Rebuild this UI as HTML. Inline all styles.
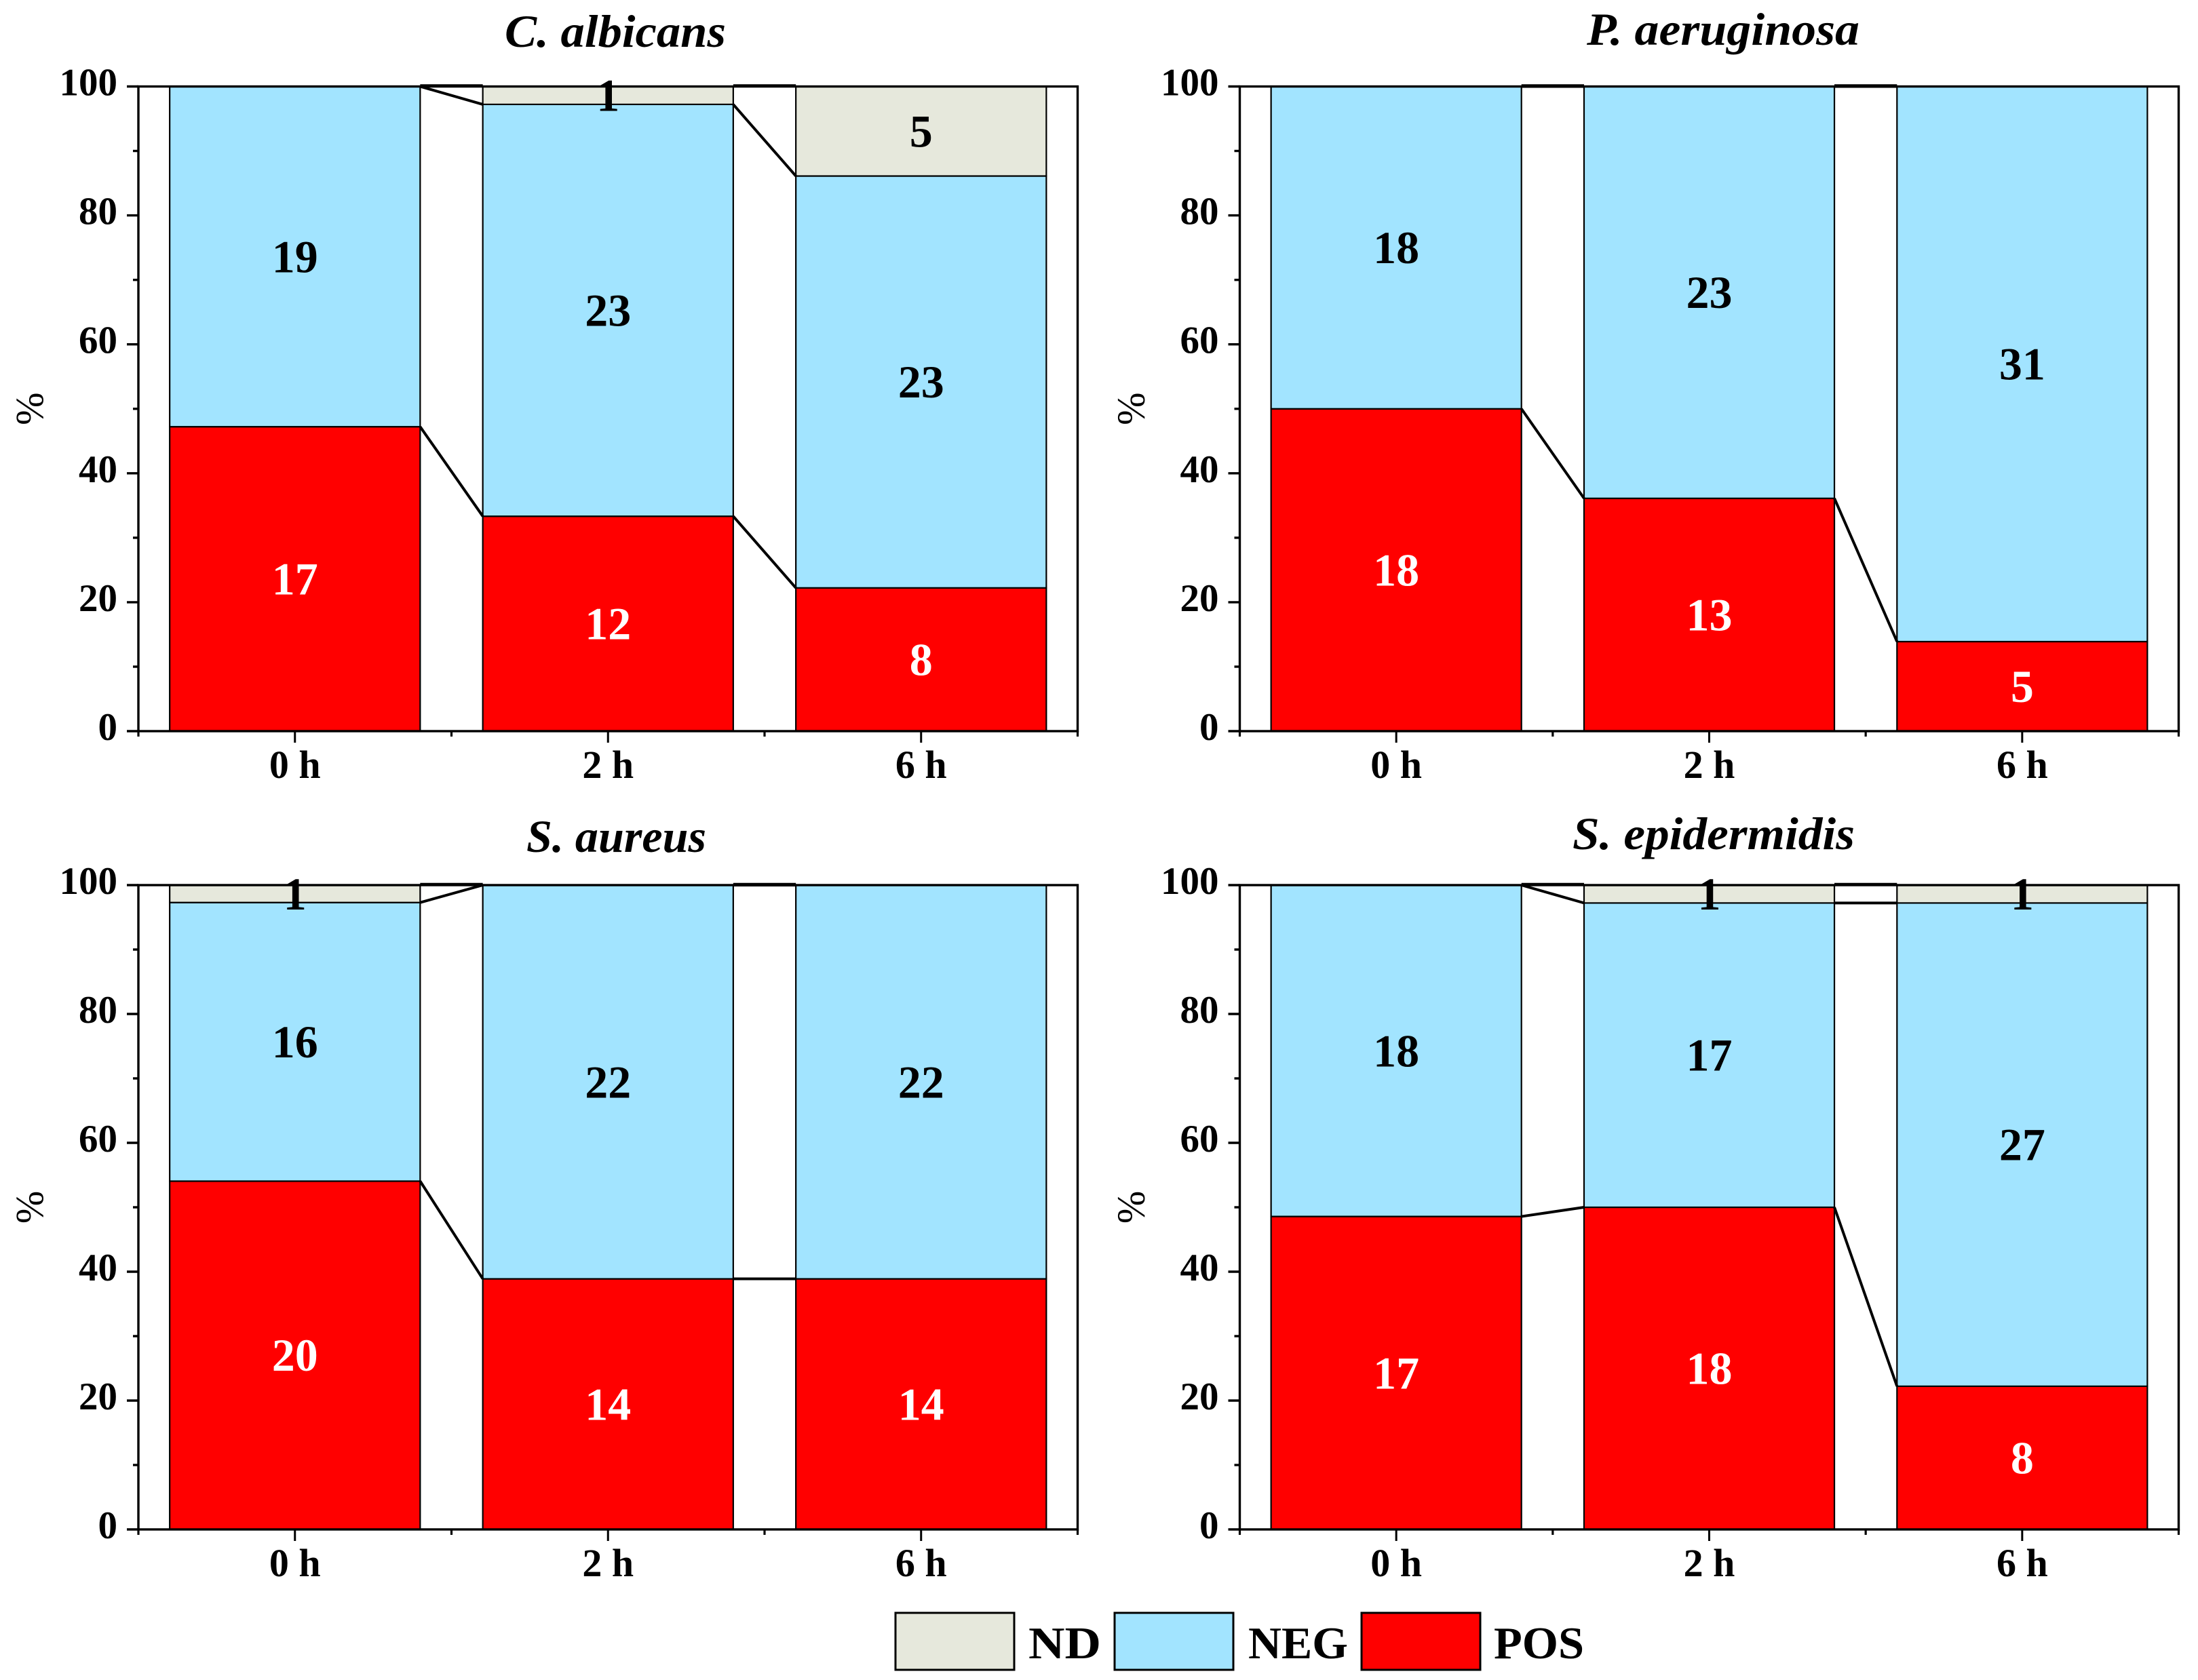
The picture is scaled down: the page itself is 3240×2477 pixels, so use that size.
<!DOCTYPE html>
<html lang="en">
<head>
<meta charset="utf-8">
<title>Stacked percentage bars by species and time</title>
<style>
html,body{margin:0;padding:0;background:#fff;}
svg{display:block;}
text{font-family:"Liberation Serif","DejaVu Serif",serif;fill:#000;}
.title{font-size:68px;font-weight:bold;font-style:italic;}
.legend-label{font-size:67px;font-weight:bold;}
</style>
</head>
<body>
<svg id="chart" xmlns="http://www.w3.org/2000/svg" width="3240" height="2477" viewBox="0 0 3240 2477">
  <rect x="0" y="0" width="3240" height="2477" fill="#fff"/>
  <g id="panel-0"></g>
  <g id="panel-1"></g>
  <g id="panel-2"></g>
  <g id="panel-3"></g>

  <text class="title" x="744" y="69" textLength="326" lengthAdjust="spacingAndGlyphs">C. albicans</text>
  <text class="title" x="2339" y="66" textLength="402" lengthAdjust="spacingAndGlyphs">P. aeruginosa</text>
  <text class="title" x="776" y="1256" textLength="265" lengthAdjust="spacingAndGlyphs">S. aureus</text>
  <text class="title" x="2318" y="1252" textLength="416" lengthAdjust="spacingAndGlyphs">S. epidermidis</text>

  <g>
    <rect x="1320" y="2378" width="175" height="84" fill="#E6E8DC" stroke="#000" stroke-width="3"/>
    <text class="legend-label" x="1516" y="2445" textLength="107" lengthAdjust="spacingAndGlyphs">ND</text>
    <rect x="1643" y="2378" width="175" height="84" fill="#A2E4FF" stroke="#000" stroke-width="3"/>
    <text class="legend-label" x="1840" y="2445" textLength="147" lengthAdjust="spacingAndGlyphs">NEG</text>
    <rect x="2007" y="2378" width="175" height="84" fill="#FF0000" stroke="#000" stroke-width="3"/>
    <text class="legend-label" x="2202" y="2445" textLength="133" lengthAdjust="spacingAndGlyphs">POS</text>
  </g>
</svg>
<script>
// Chart data: isolate counts at each time point (stacks are normalised to 100 %)
const categories = ['0 h', '2 h', '6 h'];
const yTickLabels = [0, 20, 40, 60, 80, 100];
const yMinorTicks = [10, 30, 50, 70, 90];
const albicansPos = [17, 12, 8];
const albicansNeg = [19, 23, 23];
const albicansNd = [0, 1, 5];
const aeruginosaPos = [18, 13, 5];
const aeruginosaNeg = [18, 23, 31];
const aeruginosaNd = [0, 0, 0];
const aureusPos = [20, 14, 14];
const aureusNeg = [16, 22, 22];
const aureusNd = [1, 0, 0];
const epidermidisPos = [17, 18, 8];
const epidermidisNeg = [18, 17, 27];
const epidermidisNd = [0, 1, 1];

const SVGNS = 'http://www.w3.org/2000/svg';
const COL_POS = '#FF0000';
const COL_NEG = '#A2E4FF';
const COL_ND = '#E6E8DC';

function make(parent, tag, attrs, txt) {
  const el = document.createElementNS(SVGNS, tag);
  for (const k in attrs) el.setAttribute(k, attrs[k]);
  if (txt !== undefined) el.textContent = txt;
  parent.appendChild(el);
  return el;
}

function drawPanel(groupId, slug, frame, pos, neg, nd) {
  const g = document.getElementById(groupId);
  const x = function (i) { return frame.left + (i + 0.5) * frame.width / categories.length; };
  const y = function (v) { return frame.bottom - v / 100 * (frame.bottom - frame.top); };
  const barW = 0.8 * frame.width / categories.length;
  let el;

  // stacks
  const stacks = categories.map(function (c, i) {
    const total = pos[i] + neg[i] + nd[i];
    const p = pos[i] / total * 100;
    const n = neg[i] / total * 100;
    return { p: p, pn: p + n };
  });

  categories.forEach(function (c, i) {
    const s = stacks[i];
    const l = x(i) - barW / 2;
    el = make(g, 'rect', { x: l, y: y(s.p), width: barW, height: y(0) - y(s.p), fill: COL_POS, stroke: '#000', 'stroke-width': 2.2 });
    
    
    el = make(g, 'rect', { x: l, y: y(s.pn), width: barW, height: y(s.p) - y(s.pn), fill: COL_NEG, stroke: '#000', 'stroke-width': 2.2 });
    
    
    if (nd[i] > 0) {
      el = make(g, 'rect', { x: l, y: y(100), width: barW, height: y(s.pn) - y(100), fill: COL_ND, stroke: '#000', 'stroke-width': 2.2 });
      
      
    }
  });

  // connecting lines between stacks
  for (let i = 0; i < categories.length - 1; i++) {
    const x1 = x(i) + barW / 2;
    const x2 = x(i + 1) - barW / 2;
    el = make(g, 'line', { x1: x1, y1: y(stacks[i].p), x2: x2, y2: y(stacks[i + 1].p), stroke: '#000', 'stroke-width': 4 });
    
    
    el = make(g, 'line', { x1: x1, y1: y(stacks[i].pn), x2: x2, y2: y(stacks[i + 1].pn), stroke: '#000', 'stroke-width': 4 });
    
    
    el = make(g, 'line', { x1: x1, y1: y(100) - 1.5, x2: x2, y2: y(100) - 1.5, stroke: '#000', 'stroke-width': 3.5 });
    
    
  }

  // axes frame
  el = make(g, 'rect', { x: frame.left, y: frame.top, width: frame.width, height: frame.bottom - frame.top, fill: 'none', stroke: '#000', 'stroke-width': 3.4 });
  
  

  // y ticks
  yTickLabels.forEach(function (v) {
    el = make(g, 'line', { x1: frame.left - 17, y1: y(v), x2: frame.left, y2: y(v), stroke: '#000', 'stroke-width': 3.4 });
    
    
    el = make(g, 'text', { x: frame.left - 31, y: y(v) + 13, 'text-anchor': 'end', 'font-size': 57, 'font-weight': 'bold' }, String(v));
    
    
  });
  yMinorTicks.forEach(function (v) {
    el = make(g, 'line', { x1: frame.left - 8, y1: y(v), x2: frame.left, y2: y(v), stroke: '#000', 'stroke-width': 3.4 });
    
    
  });

  // x ticks
  categories.forEach(function (c, i) {
    el = make(g, 'line', { x1: x(i), y1: frame.bottom, x2: x(i), y2: frame.bottom + 17, stroke: '#000', 'stroke-width': 3 });
    
    
    el = make(g, 'text', { x: x(i), y: frame.bottom + 69, 'text-anchor': 'middle', 'font-size': 58, 'font-weight': 'bold' }, c);
    
    
  });
  for (let i = 0; i <= categories.length; i++) {
    const mx = x(i) - frame.width / categories.length / 2;
    el = make(g, 'line', { x1: mx, y1: frame.bottom, x2: mx, y2: frame.bottom + 8, stroke: '#000', 'stroke-width': 3.2 });
    
    
  }

  // y-axis title
  const tx = frame.left - 141;
  const ty = (frame.top + frame.bottom) / 2;
  el = make(g, 'text', { x: tx, y: ty, 'text-anchor': 'middle', 'font-size': 58, transform: 'rotate(-90 ' + tx + ' ' + ty + ')' }, '%');
  
  

  // printed counts
  categories.forEach(function (c, i) {
    const s = stacks[i];
    el = make(g, 'text', { x: x(i), y: y(s.p / 2) + 23, 'text-anchor': 'middle', 'font-size': 68, 'font-weight': 'bold', style: 'fill:#fff' }, String(pos[i]));
    
    
    el = make(g, 'text', { x: x(i), y: y((s.p + s.pn) / 2) + 23, 'text-anchor': 'middle', 'font-size': 68, 'font-weight': 'bold' }, String(neg[i]));
    
    
    if (nd[i] > 0) {
      el = make(g, 'text', { x: x(i), y: y((s.pn + 100) / 2) + 23, 'text-anchor': 'middle', 'font-size': 68, 'font-weight': 'bold' }, String(nd[i]));
      
      
    }
  });
}

drawPanel('panel-0', 'c-albicans', { left: 204, width: 1384.5, top: 127.5, bottom: 1078 }, albicansPos, albicansNeg, albicansNd);
drawPanel('panel-1', 'p-aeruginosa', { left: 1827.5, width: 1384, top: 127.5, bottom: 1078 }, aeruginosaPos, aeruginosaNeg, aeruginosaNd);
drawPanel('panel-2', 's-aureus', { left: 204, width: 1384.5, top: 1305, bottom: 2255 }, aureusPos, aureusNeg, aureusNd);
drawPanel('panel-3', 's-epidermidis', { left: 1827.5, width: 1384, top: 1305, bottom: 2255 }, epidermidisPos, epidermidisNeg, epidermidisNd);
</script>
</body>
</html>
